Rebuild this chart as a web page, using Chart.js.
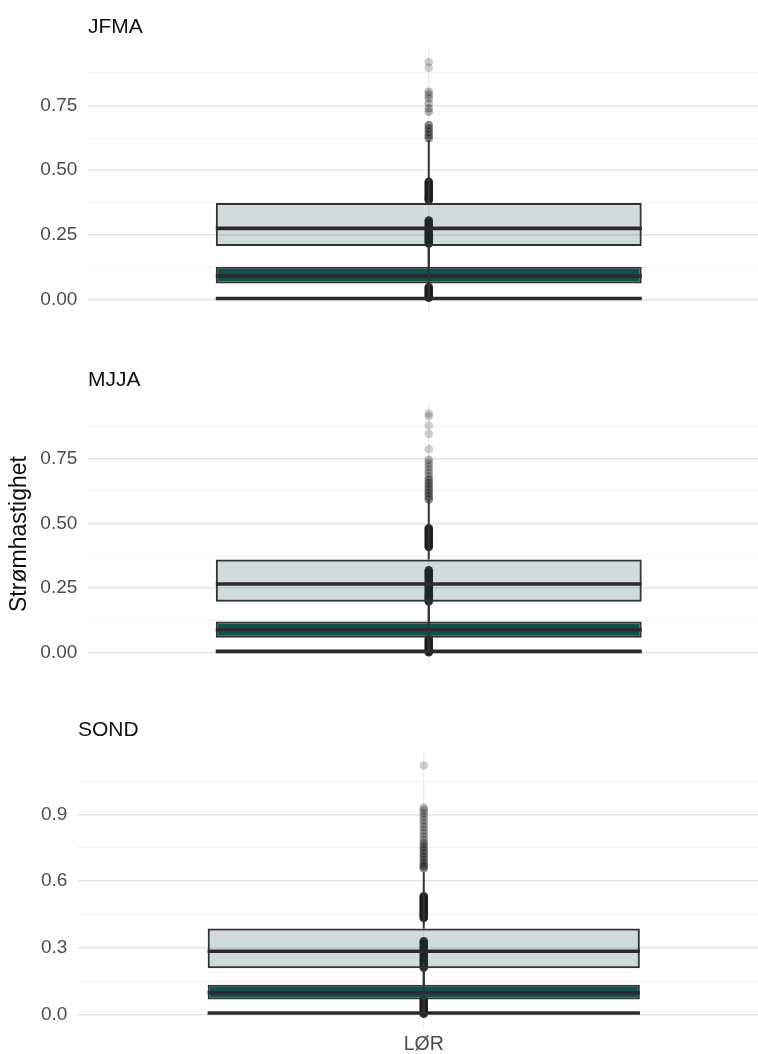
<!DOCTYPE html>
<html><head><meta charset="utf-8">
<script src="https://cdn.jsdelivr.net/npm/chart.js@4.4.1/dist/chart.umd.min.js"></script>
<style>
html,body{margin:0;padding:0;background:#fff;width:758px;height:1054px;overflow:hidden;position:relative}
canvas{position:absolute;left:0}
</style></head><body>
<canvas id="c0" width="776" height="324" style="top:0px"></canvas>
<canvas id="c1" width="776" height="324" style="top:353px"></canvas>
<canvas id="c2" width="776" height="361" style="top:703px"></canvas>
<script>
// ---- data ----
const panels = ['JFMA', 'MJJA', 'SOND'];
const categories = ['LØR'];
const yLabel = 'Strømhastighet';
// boxes: [q1, median, q3]; whiskers: [low, high]
const lightBox = [[0.208, 0.276, 0.374], [0.198, 0.266, 0.361], [0.208, 0.285, 0.387]];
const lightWhisker = [[0.005, 0.616], [0.005, 0.592], [0.006, 0.640]];
const tealBox = [[0.064, 0.092, 0.128], [0.059, 0.090, 0.122], [0.068, 0.098, 0.134]];
const tealWhisker = [[0.003, 0.22], [0.003, 0.21], [0.004, 0.23]];
const flatBox = [[0.003, 0.006, 0.009], [0.003, 0.0065, 0.010], [0.003, 0.007, 0.011]];
const flatWhisker = [[0.0, 0.014], [0.0, 0.014], [0.0, 0.016]];
// outlying points, grouped by how faint they look
const faintPts = [
  [0.917, 0.895],
  [0.923, 0.913, 0.877, 0.845, 0.786],
  [1.121]
];
const midPts = [
  [0.802, 0.790, 0.777, 0.757, 0.738, 0.725],
  [0.745, 0.732, 0.719, 0.706, 0.693, 0.680],
  [0.930, 0.918, 0.905, 0.890, 0.875, 0.860, 0.845, 0.830, 0.815, 0.800, 0.785]
];
const darkPts = [
  [0.674, 0.661, 0.648, 0.635, 0.623],
  [0.668, 0.655, 0.642, 0.629, 0.616, 0.603, 0.592],
  [0.770, 0.755, 0.740, 0.725, 0.710, 0.695, 0.680, 0.668, 0.658]
];
const densePts = [
  [0.455, 0.447, 0.440, 0.432, 0.424, 0.416, 0.408, 0.400, 0.392, 0.385,
   0.306, 0.298, 0.290, 0.282, 0.274, 0.266, 0.258, 0.250, 0.242, 0.234, 0.226, 0.218,
   0.050, 0.043, 0.036, 0.029, 0.022, 0.015, 0.009],
  [0.481, 0.473, 0.465, 0.457, 0.449, 0.441, 0.433, 0.425, 0.417, 0.409,
   0.319, 0.311, 0.303, 0.295, 0.287, 0.279, 0.271, 0.263, 0.255, 0.247, 0.239, 0.231, 0.223, 0.215, 0.207, 0.199,
   0.055, 0.047, 0.039, 0.031, 0.023, 0.015, 0.008, 0.003],
  [0.532, 0.523, 0.514, 0.505, 0.496, 0.487, 0.478, 0.469, 0.460, 0.451, 0.443, 0.435,
   0.330, 0.320, 0.310, 0.300, 0.290, 0.280, 0.270, 0.260, 0.250, 0.240, 0.230, 0.220, 0.212,
   0.075, 0.066, 0.057, 0.048, 0.039, 0.030, 0.021, 0.012, 0.004]
];
const yMajor = [[0, 0.25, 0.5, 0.75], [0, 0.25, 0.5, 0.75], [0, 0.3, 0.6, 0.9]];
const yMinor = [[0.125, 0.375, 0.625, 0.875], [0.125, 0.375, 0.625, 0.875], [0.15, 0.45, 0.75, 1.05]];
const yDecimals = [2, 2, 1];
const yRange = [[-0.046, 0.963], [-0.046, 0.964], [-0.056, 1.177]];

// ---- styling ----
const FONT = "'Liberation Sans', Arial, Helvetica, sans-serif";
Chart.defaults.font.family = FONT;
const TEAL = '#14504a';
const LIGHT = 'rgba(20,80,74,0.2)';
const EDGE = '#333333';
const BOX_HALF = 0.375;   // half box width in category units
const XPAD = 0.6;         // discrete axis expansion
const yAxisWidth = [88, 88, 78];
const bottomPad = [12, 12, 1];

function makeChart(i) {
  const isLast = i === 2;
  const major = yMajor[i];
  const allTicks = major.concat(yMinor[i]).sort((a, b) => a - b);
  const isMajor = v => major.some(m => Math.abs(m - v) < 1e-9);
  const ds = [];
  const pts = (vals, alpha, order) => ({
    type: 'line', xAxisID: 'xl', yAxisID: 'y', data: vals.map(v => ({x: 0, y: v})),
    showLine: false, pointRadius: 4.3, pointBorderWidth: 0, pointHoverRadius: 4.3,
    pointBackgroundColor: `rgba(30,30,30,${alpha})`, order
  });
  ds.push(pts(faintPts[i], 0.22, 20), pts(midPts[i], 0.33, 19), pts(darkPts[i], 0.5, 18), pts(densePts[i], 0.9, 17));
  const box = (b, w, fill, order) => [
    {type: 'line', xAxisID: 'xl', yAxisID: 'y',
     data: [{x: 0, y: w[0]}, {x: 0, y: b[0]}, {x: 0, y: null}, {x: 0, y: b[2]}, {x: 0, y: w[1]}],
     borderColor: EDGE, borderWidth: 2, pointRadius: 0, fill: false, spanGaps: false, order: order + 2},
    {type: 'bar', xAxisID: 'x', yAxisID: 'y', data: [[b[0], b[2]]], backgroundColor: fill,
     borderColor: EDGE, borderWidth: 2, borderSkipped: false, barPercentage: 0.625,
     categoryPercentage: 1, grouped: false, order: order + 1},
    {type: 'line', xAxisID: 'xl', yAxisID: 'y', data: [{x: -BOX_HALF, y: b[1]}, {x: BOX_HALF, y: b[1]}],
     borderColor: '#2b2b2b', borderWidth: 3.6, pointRadius: 0, fill: false, order}
  ];
  ds.push(...box(tealBox[i], tealWhisker[i], TEAL, 13));
  ds.push(...box(flatBox[i], flatWhisker[i], EDGE, 10));
  ds.push(...box(lightBox[i], lightWhisker[i], LIGHT, 7));

  new Chart(document.getElementById('c' + i), {
    type: 'bar',
    data: {labels: categories, datasets: ds},
    options: {
      responsive: false, animation: false, devicePixelRatio: 1, events: [],
      layout: {padding: {left: 0, right: 6.5, top: 0, bottom: bottomPad[i]}},
      plugins: {
        legend: {display: false}, tooltip: {enabled: false},
        title: {display: true, text: panels[i], align: 'start', fullSize: false,
                color: '#111', font: {size: 21, weight: 'normal'}, padding: {top: 14.4, bottom: 10.4}}
      },
      scales: {
        x: {type: 'category', display: false, offset: true},
        xl: {type: 'linear', position: 'bottom', min: -XPAD, max: XPAD, offset: false, bounds: 'data',
             grid: {color: '#ebebeb', lineWidth: 1.3, drawTicks: false, offset: false},
             border: {display: false},
             ticks: {display: isLast, padding: 6.3, color: '#4d4d4d', font: {size: 19.5},
                     callback: () => categories[0]},
             afterBuildTicks: s => { s.ticks = [{value: 0}]; },
             afterFit: s => { s.paddingLeft = 0; s.paddingRight = 0; }},
        y: {type: 'linear', min: yRange[i][0], max: yRange[i][1], beginAtZero: false,
            afterBuildTicks: s => { s.ticks = allTicks.map(v => ({value: v})); },
            ticks: {autoSkip: false, padding: 10.7, color: '#4d4d4d', font: {size: 19},
                    callback: v => isMajor(v) ? Number(v).toFixed(yDecimals[i]) : ''},
            grid: {drawTicks: false,
                   color: c => (c.tick && isMajor(c.tick.value)) ? '#e7e7e7' : '#f1f1f1',
                   lineWidth: c => (c.tick && isMajor(c.tick.value)) ? 1.5 : 1.1},
            border: {display: false},
            title: i === 1 ? {display: true, text: yLabel, color: '#111',
                              font: {size: 23}, padding: {top: 6.2, bottom: 0}} : {display: false},
            afterFit: s => { s.width = yAxisWidth[i]; s.paddingTop = 0; s.paddingBottom = 0; }}
      }
    }
  });
}
[0, 1, 2].forEach(makeChart);
</script>
</body></html>
